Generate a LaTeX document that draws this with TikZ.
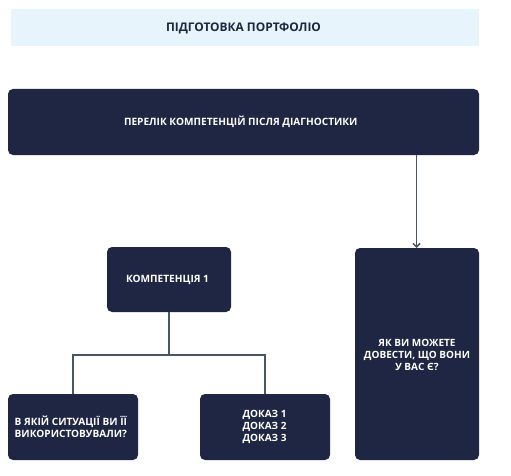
\documentclass[tikz,border=0pt]{standalone}
\usepackage{fontspec}
\setmainfont{Open Sans}
\usetikzlibrary{arrows.meta}
\definecolor{boxc}{HTML}{1E2644}
\definecolor{titlebg}{HTML}{E8F4FB}
\definecolor{linec}{HTML}{4A5468}
\definecolor{titletxt}{HTML}{1E2644}
\tikzset{
  darkbox/.style={fill=boxc, rounded corners=5pt},
  boxtext/.style={text=white, font=\bfseries\fontsize{10.1}{12.5}\selectfont, align=center, inner sep=0pt},
  conn/.style={draw=linec, line width=1.5pt},
}
\begin{document}
\begin{tikzpicture}[x=1pt,y=-1pt]
\useasboundingbox (0,0) rectangle (511,476);
% title
\fill[titlebg] (11,9) rectangle (479,46);
\node[text=titletxt, font=\bfseries\fontsize{11.9}{14}\selectfont, inner sep=0pt] (title) at (243.5,28) {ПІДГОТОВКА ПОРТФОЛІО};
% boxes
\fill[darkbox] (8,89) rectangle (479,155);
\node[boxtext, font=\bfseries\fontsize{10.1}{13}\selectfont] (list) at (240.8,122) {ПЕРЕЛІК КОМПЕТЕНЦІЙ ПІСЛЯ ДІАГНОСТИКИ};
\coordinate (listout) at (416.5,155);
\fill[darkbox] (107,247) rectangle (231,312);
\node[boxtext] (comp) at (167.5,280) {КОМПЕТЕНЦІЯ 1};
\coordinate (compout) at (169,312);
\fill[darkbox] (8,394) rectangle (138,460);
\node[boxtext, align=left, anchor=west] (sit) at (14.5,427) {В ЯКІЙ СИТУАЦІЇ ВИ ЇЇ\\ВИКОРИСТОВУВАЛИ?};
\coordinate (sitin) at (73,394);
\fill[darkbox] (200,394) rectangle (330,460);
\node[boxtext, font=\bfseries\fontsize{10}{12}\selectfont] (proof) at (264.5,427) {ДОКАЗ 1\\ДОКАЗ 2\\ДОКАЗ 3};
\coordinate (proofin) at (265,394);
\fill[darkbox] (355,248) rectangle (479,460);
\node[boxtext, font=\bfseries\fontsize{10}{12.3}\selectfont] (how) at (417,355) {ЯК ВИ МОЖЕТЕ\\ДОВЕСТИ, ЩО ВОНИ\\У ВАС Є?};
\coordinate (howin) at (416.5,248);
% connectors
\draw[conn, -{Straight Barb[length=3.5pt,width=7pt]}] (listout) -- (howin);
\draw[conn] (compout) -- (169,355) -| (sitin);
\draw[conn] (169,355) -| (proofin);
\end{tikzpicture}
\end{document}
